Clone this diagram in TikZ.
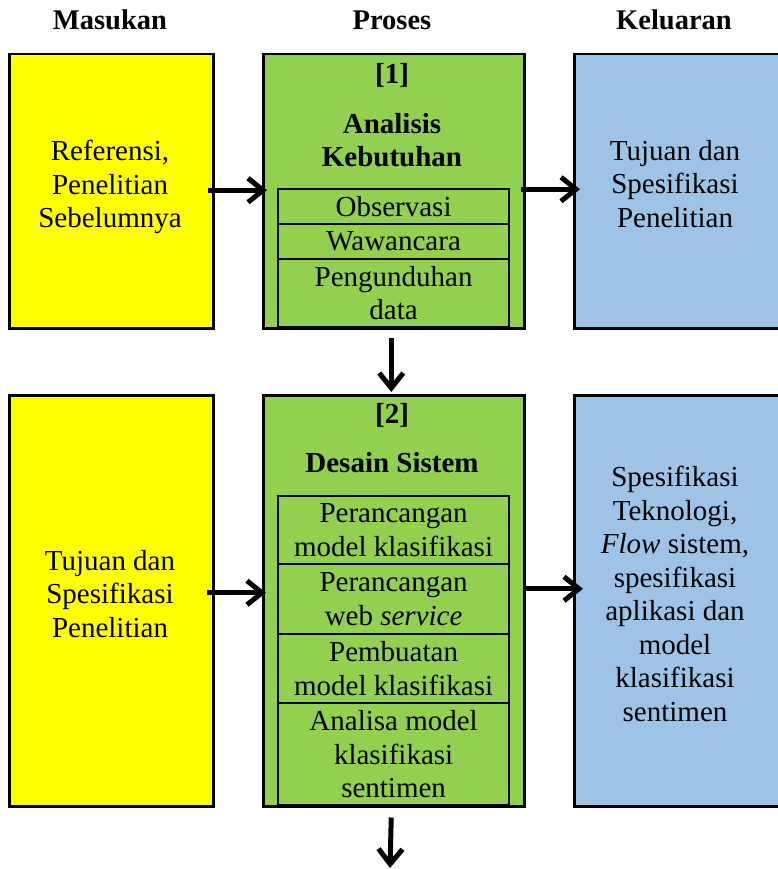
\documentclass[tikz,border=0pt]{standalone}
\usepackage{fontspec}
\setmainfont{Liberation Serif}
\usetikzlibrary{arrows.meta,calc}
\definecolor{yel}{HTML}{FFFF00}
\definecolor{grn}{HTML}{92D050}
\definecolor{blu}{HTML}{9DC3E6}
\begin{document}
\begin{tikzpicture}[x=1pt,y=-1pt,
  box/.style={draw=black,line width=2.5pt,inner sep=0pt,anchor=north west},
  sub/.style={draw=black,line width=2.2pt,fill=grn,inner sep=0pt,anchor=north west,
    minimum width=231pt,align=center,font=\fontsize{29}{33.5}\selectfont},
  txt/.style={inner sep=0pt,align=center,font=\fontsize{29}{33.5}\selectfont},
  hdr/.style={inner sep=0pt,anchor=base,font=\bfseries\fontsize{28.5}{33}\selectfont},
  ttl/.style={inner sep=0pt,align=center,font=\bfseries\fontsize{29}{33.5}\selectfont},
  arr/.style={line width=5pt,-{Straight Barb[length=15pt,width=24pt,line width=5pt]}}]
\useasboundingbox (0,0) rectangle (777,869);
\fill[white] (0,0) rectangle (777,869);
% headers
\node[hdr] (h1) at (110,30) {Masukan};
\node[hdr] (h2) at (392,30) {Proses};
\node[hdr] (h3) at (674,30) {Keluaran};
% row 1
\node[box,fill=yel,minimum width=204pt,minimum height=274pt] (y1) at (8,53) {};
\node[box,fill=grn,minimum width=261pt,minimum height=274pt] (g1) at (262,53) {};
\node[box,fill=blu,minimum width=210pt,minimum height=274pt] (b1) at (573,53) {};
\node[txt] (ty1) at (110,187) {Referensi,\\Penelitian\\Sebelumnya};
\node[txt] (tb1) at (675,184) {Tujuan dan\\Spesifikasi\\Penelitian};
\node[ttl] (n1) at (392,75) {[1]};
\node[ttl] (k1) at (392,140) {Analisis\\Kebutuhan};
\node[sub,minimum height=35pt] (s11) at (277,188) {Observasi};
\node[sub,minimum height=35pt] (s12) at (277,223) {Wawancara};
\node[sub,minimum height=68pt] (s13) at (277,258) {Pengunduhan\\data};
% row 2
\node[box,fill=yel,minimum width=204pt,minimum height=411pt] (y2) at (8,394) {};
\node[box,fill=grn,minimum width=261pt,minimum height=411pt] (g2) at (262,394) {};
\node[box,fill=blu,minimum width=210pt,minimum height=411pt] (b2) at (573,394) {};
\node[txt] (ty2) at (110,594) {Tujuan dan\\Spesifikasi\\Penelitian};
\node[txt] (tb2) at (675,594) {Spesifikasi\\Teknologi,\\\textit{Flow} sistem,\\spesifikasi\\aplikasi dan\\model\\klasifikasi\\sentimen};
\node[ttl] (n2) at (392,415) {[2]};
\node[ttl] (k2) at (392,463) {Desain Sistem};
\node[sub,minimum height=68pt] (s21) at (277,495) {Perancangan\\model klasifikasi};
\node[sub,minimum height=70pt] (s22) at (277,563) {Perancangan\\web \textit{service}};
\node[sub,minimum height=69pt] (s23) at (277,633) {Pembuatan\\model klasifikasi};
\node[sub,minimum height=102pt] (s24) at (277,702) {Analisa model\\klasifikasi\\sentimen};
% arrows
\coordinate (endarr) at (390,868);
\draw[arr] ($(y1.east)+(-7,-1)$) -- ($(g1.west)+(5,-1)$);
\draw[arr] ($(g1.east)+(-5,-2)$) -- ($(b1.west)+(7,-2)$);
\draw[arr] ($(g1.south)+(-2.5,8)$) -- ($(g2.north)+(-2.5,-2)$);
\draw[arr] ($(y2.east)+(-8,-8)$) -- ($(g2.west)+(4,-8)$);
\draw[arr] ($(g2.east)+(-1,-12)$) -- ($(b2.west)+(10,-12)$);
\draw[arr] ($(g2.south)+(-2.5,10)$) -- (endarr);
\end{tikzpicture}
\end{document}
